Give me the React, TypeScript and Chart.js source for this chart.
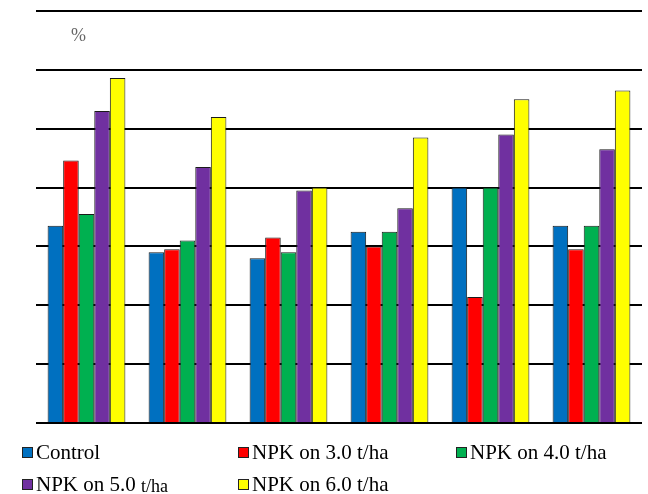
import React, { useEffect, useRef } from "react";
import { Chart, registerables } from "chart.js";

Chart.register(...registerables);

const categories = ["1", "2", "3", "4", "5", "6"];
const seriesNames = ["Control", "NPK on 3.0 t/ha", "NPK on 4.0 t/ha", "NPK on 5.0 t/ha", "NPK on 6.0 t/ha"];
const control = [3.35, 2.9, 2.8, 3.25, 4.0, 3.35];
const npk3 = [4.46, 2.95, 3.15, 3.0, 2.14, 2.95];
const npk4 = [3.55, 3.1, 2.9, 3.25, 4.0, 3.35];
const npk5 = [5.3, 4.35, 3.95, 3.65, 4.9, 4.65];
const npk6 = [5.86, 5.2, 4.0, 4.85, 5.5, 5.65];
const colors = ["#0070C0", "#FF0000", "#00B050", "#7030A0", "#FFFF00"];
const unitLabel = "%";
const yMax = 7;

const serif = "'Liberation Serif', 'Times New Roman', serif";

const legendPos = [
  { x: 22, y: 453 },
  { x: 238, y: 453 },
  { x: 456, y: 453 },
  { x: 22, y: 485 },
  { x: 238, y: 485 },
];

const textPlugin = {
  id: "textPlugin",
  afterDraw(chart: any) {
    const ctx = chart.ctx;
    ctx.save();
    ctx.textBaseline = "middle";
    ctx.textAlign = "left";
    // unit label
    ctx.fillStyle = "#666";
    ctx.font = `18px ${serif}`;
    ctx.fillText(unitLabel, 71, 36);
    // legend
    chart.data.datasets.forEach((ds: any, i: number) => {
      const p = legendPos[i];
      ctx.fillStyle = ds.backgroundColor;
      ctx.fillRect(p.x, p.y - 6, 11, 11);
      ctx.strokeStyle = "#222";
      ctx.lineWidth = 1;
      ctx.strokeRect(p.x + 0.5, p.y - 5.5, 10, 10);
      ctx.fillStyle = "#000";
      const label: string = ds.label;
      const tx = p.x + 14;
      if (i === 3) {
        const head = "NPK on 5.0 ";
        ctx.font = `21px ${serif}`;
        ctx.fillText(head, tx, p.y);
        const w = ctx.measureText(head).width;
        ctx.font = `18px ${serif}`;
        ctx.fillText(label.slice(head.length), tx + w, p.y + 2);
      } else {
        ctx.font = `21px ${serif}`;
        ctx.fillText(label, tx, p.y);
      }
    });
    ctx.restore();
  },
};

export default function App() {
  const ref = useRef<HTMLCanvasElement | null>(null);

  useEffect(() => {
    if (!ref.current) return;
    const values = [control, npk3, npk4, npk5, npk6];
    const chart = new Chart(ref.current, {
      type: "bar",
      data: {
        labels: categories,
        datasets: values.map((v, i) => ({
          label: seriesNames[i],
          data: v,
          backgroundColor: colors[i],
          borderColor: "#1a1a1a",
          borderWidth: 1,
          categoryPercentage: 0.77,
          barPercentage: 1,
        })),
      },
      options: {
        animation: false,
        responsive: true,
        maintainAspectRatio: false,
        layout: { padding: { left: 36, right: 6, top: 11, bottom: 71 } },
        plugins: { legend: { display: false }, tooltip: { enabled: false } },
        scales: {
          x: { display: false },
          y: {
            min: 0,
            max: yMax,
            ticks: { display: false, stepSize: 1 },
            border: { display: false },
            grid: { color: "#000", lineWidth: 2, drawTicks: false },
          },
        },
      },
      plugins: [textPlugin],
    });
    return () => chart.destroy();
  }, []);

  return (
    <div style={{ position: "absolute", left: 0, top: 0, width: 648, height: 494, background: "#fff" }}>
      <canvas ref={ref} />
    </div>
  );
}
